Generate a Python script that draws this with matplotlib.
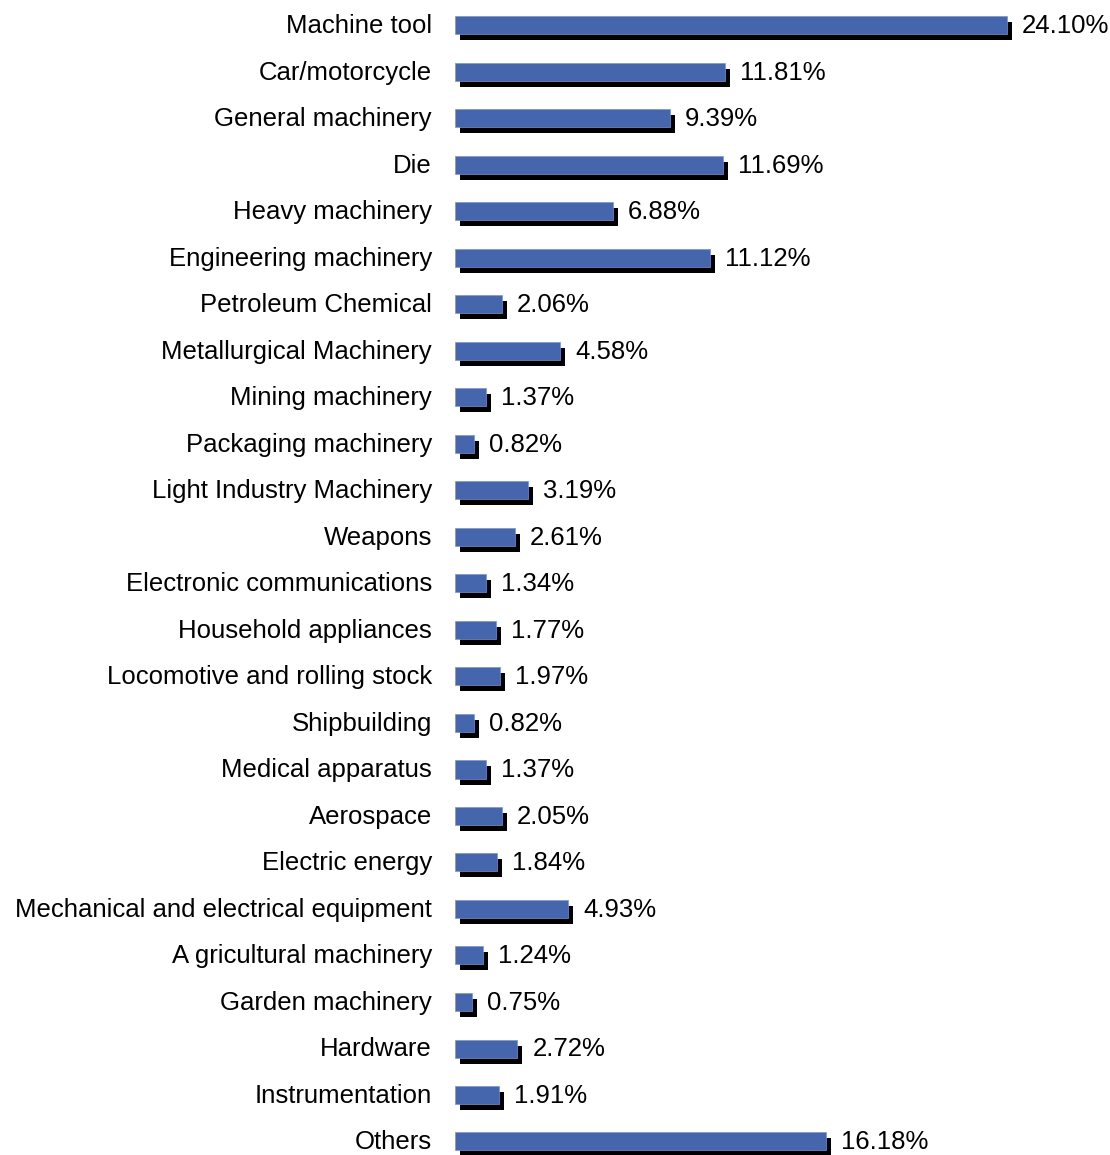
import matplotlib.pyplot as plt

plt.rcParams['font.family'] = ['Liberation Sans', 'DejaVu Sans']

categories = ["Machine tool", "Car/motorcycle", "General machinery", "Die",
              "Heavy machinery", "Engineering machinery", "Petroleum Chemical",
              "Metallurgical Machinery", "Mining machinery", "Packaging machinery",
              "Light Industry Machinery", "Weapons", "Electronic communications",
              "Household appliances", "Locomotive and rolling stock", "Shipbuilding",
              "Medical apparatus", "Aerospace", "Electric energy",
              "Mechanical and electrical equipment", "A gricultural machinery",
              "Garden machinery", "Hardware", "Instrumentation", "Others"]
shares = [24.10, 11.81, 9.39, 11.69, 6.88, 11.12, 2.06, 4.58, 1.37, 0.82,
          3.19, 2.61, 1.34, 1.77, 1.97, 0.82, 1.37, 2.05, 1.84, 4.93,
          1.24, 0.75, 2.72, 1.91, 16.18]

W, H = 1110, 1155
fig = plt.figure(figsize=(W / 100, H / 100), dpi=100)
x0 = 455
px_per_unit = 22.9
row = 46.5
first = 25.5
ax = fig.add_axes([x0 / W, 0, (W - x0) / W, 1])
ax.set_xlim(0, (W - x0) / px_per_unit)
ax.set_ylim((H - first) / row, -first / row)

pos = list(range(len(categories)))
bh = 18 / row
dx = 5 / px_per_unit
dy = 6 / row
ax.barh([p + dy for p in pos], shares, left=dx, height=bh, color='black', zorder=1)
ax.barh(pos, shares, height=bh, color='#4565AD', edgecolor='#7F95C8',
        linewidth=0.5, zorder=2)

for p, name, v in zip(pos, categories, shares):
    ax.text(-23 / px_per_unit, p + 0.02, name, ha='right', va='center', fontsize=18.5,
            clip_on=False)
    ax.text(v + 15 / px_per_unit, p + 0.02, "%.2f%%" % v, ha='left', va='center',
            fontsize=18.5, clip_on=False)

ax.axis('off')
fig.savefig('out.png', dpi=100)
